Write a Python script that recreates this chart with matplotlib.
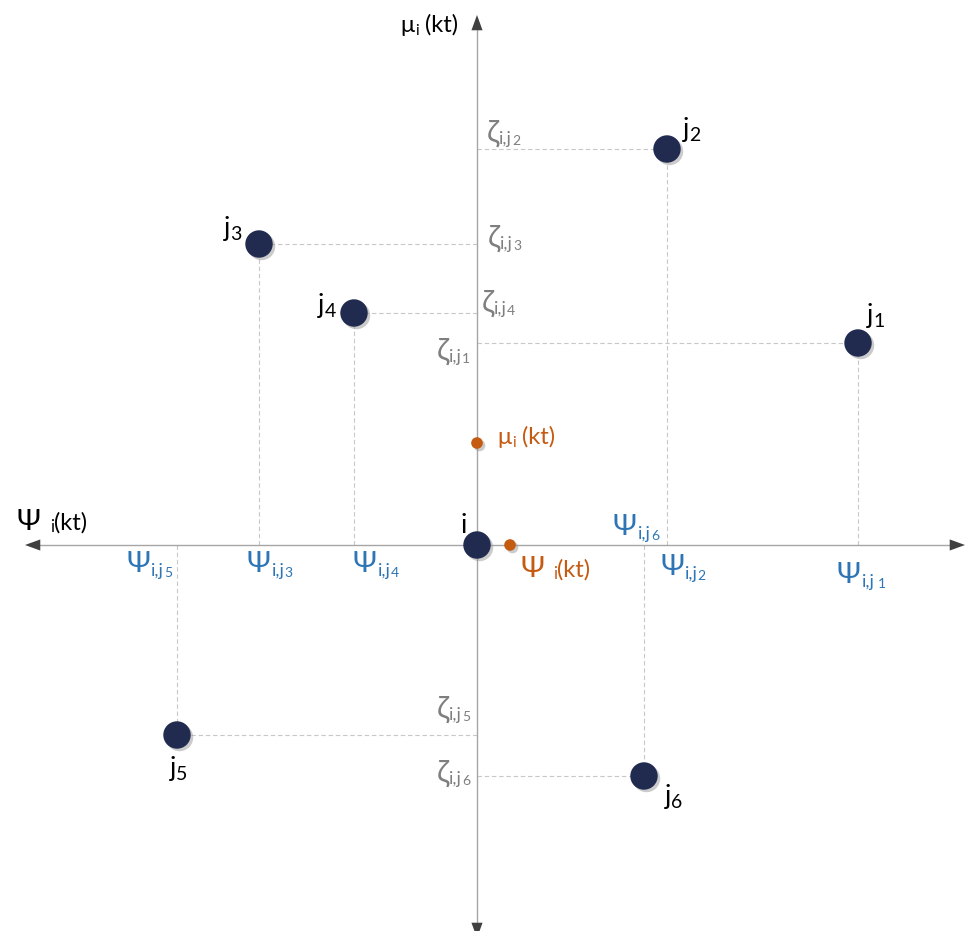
import matplotlib
matplotlib.use('Agg')
import matplotlib.pyplot as plt
import matplotlib.patheffects as pe
import matplotlib.transforms as mtransforms

plt.rcParams['font.family'] = ['Lato', 'DejaVu Sans']

# neighbours j1..j6 around node i (x: Psi_i, y: mu_i), node i at the origin
nodes = ['1', '2', '3', '4', '5', '6']
psi = [381, 190, -218, -123, -300, 167]
zeta = [202, 396, 301, 232, -190, -231]
mu_i = 102
psi_i = 33

NAVY = '#212B50'
ORANGE = '#C55A11'
BLUE = '#2E75B6'
GREY = '#7F7F7F'

fig = plt.figure(figsize=(9.65, 9.31), dpi=100)
ax = fig.add_axes([0, 0, 1, 1])
ax.set_xlim(-477, 488)
ax.set_ylim(-386, 545)
ax.axis('off')
renderer = fig.canvas.get_renderer()


def chain(x, y, parts, color, dx=0, dy=0, ha='left'):
    # parts: (text, fontsize, rise in px, gap before in px)
    items = []
    for s, size, rise, gap in parts:
        t = ax.text(x, y, s, fontsize=size, color=color, va='baseline', ha='left', zorder=6)
        items.append((t, rise, gap, t.get_window_extent(renderer).width))
    total = sum(w + g for _, _, g, w in items)
    cur = dx - total if ha == 'right' else dx
    for t, rise, gap, w in items:
        cur += gap
        t.set_transform(mtransforms.offset_copy(ax.transData, fig=fig, x=cur, y=dy + rise, units='dots'))
        cur += w


def head(tip, tail):
    ax.annotate('', xy=tip, xytext=tail, annotation_clip=False,
                arrowprops=dict(arrowstyle='-|>,head_length=0.55,head_width=0.2',
                                color='#404040', lw=0, shrinkA=0, shrinkB=0,
                                mutation_scale=20))


# axes with arrow heads
ax.plot([-440, 475], [0, 0], color='#A6A6A6', lw=1.0, zorder=2)
ax.plot([0, 0], [-380, 518], color='#A6A6A6', lw=1.0, zorder=2)
head((-452, 0), (-436, 0))
head((488, 0), (472, 0))
head((0, 530), (0, 514))
head((0, -393), (0, -377))

# projections of each neighbour onto both axes
for x, y in zip(psi, zeta):
    ax.plot([x, x], [0, y], ls=(0, (4, 2.5)), color='#C8C8C8', lw=0.8, zorder=1)
    ax.plot([0, x], [y, y], ls=(0, (4, 2.5)), color='#C8C8C8', lw=0.8, zorder=1)

shadow = [pe.SimplePatchShadow(offset=(1.8, -1.8), shadow_rgbFace='#8C8C8C', alpha=0.45), pe.Normal()]
ax.scatter(psi + [0], zeta + [0], s=390, c=NAVY, zorder=4, linewidths=0, path_effects=shadow)
ax.scatter([0, psi_i], [mu_i, 0], s=70, c=ORANGE, zorder=4, linewidths=0, path_effects=shadow)

# node labels
j_off = [(9, 20, 'left'), (16, 12, 'left'), (-17, 8, 'right'),
         (-18, 0, 'right'), (-7, -41, 'left'), (21, -28, 'left')]
for n, x, y, (dx, dy, ha) in zip(nodes, psi, zeta, j_off):
    chain(x, y, [('j', 19, 0, 0), (n, 14, -4, 0)], 'black', dx, dy, ha)
chain(0, 0, [('i', 19, 0, 0)], 'black', -16, 12)

# Psi_{i,j} labels on the horizontal axis
psi_off = [(-21, -38, 'left'), (-7, -30, 'left'), (-12, -27, 'left'),
           (-1, -27, 'left'), (-5, -27, 'right'), (-31, 10, 'left')]
for n, x, (dx, dy, ha) in zip(nodes, psi, psi_off):
    gap = 3 if n == '1' else 0
    chain(x, 0, [('Ψ', 21, 0, 0), ('i,j', 13, -4, 1), (n, 10, -5, gap)], BLUE, dx, dy, ha)

# zeta_{i,j} labels on the vertical axis
zeta_off = [(-7, -17, 'right'), (10, 7, 'left'), (11, -3, 'left'),
            (5, 1, 'left'), (-7, 17, 'right'), (-7, -6, 'right')]
for n, y, (dx, dy, ha) in zip(nodes, zeta, zeta_off):
    chain(0, y, [('ζ', 22, 0, 0), ('i,j', 13, -2, 0), (n, 10, -3, 0)], GREY, dx, dy, ha)

# axis titles
chain(0, 0, [('μ', 17, 0, 0), ('i', 11, -3, 1), ('(kt)', 17, 0, 6)], 'black', -77, 513)
chain(0, 0, [('Ψ', 21, 0, 0), ('i', 12, -2, 9), ('(kt)', 17, 0, 0)], 'black', -460, 15)

# current position of node i
chain(0, mu_i, [('μ', 17, 0, 0), ('i', 11, -3, 1), ('(kt)', 17, 0, 6)], ORANGE, 20, -1)
chain(psi_i, 0, [('Ψ', 21, 0, 0), ('i', 12, -2, 9), ('(kt)', 17, 0, 0)], ORANGE, 10, -32)

fig.savefig('out.png', dpi=100)
